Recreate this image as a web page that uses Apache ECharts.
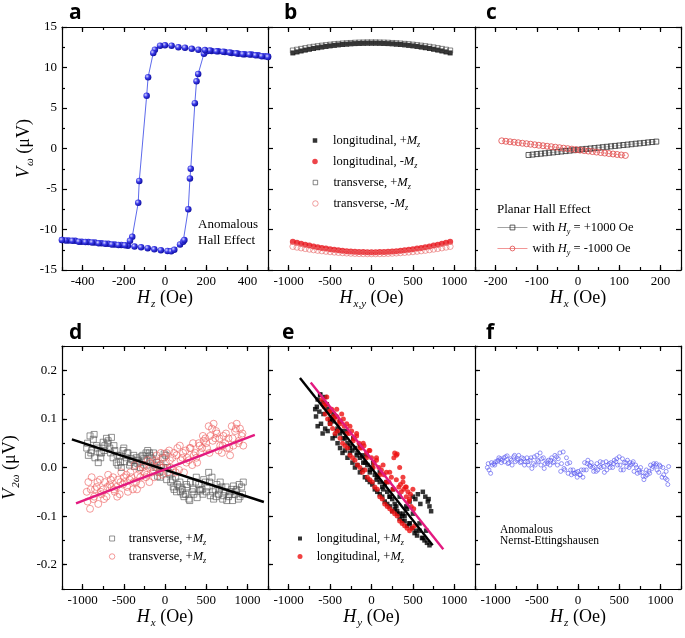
<!DOCTYPE html>
<html><head><meta charset="utf-8">
<script src="https://cdn.jsdelivr.net/npm/echarts@6/dist/echarts.min.js"></script>
<style>html,body{margin:0;padding:0;background:#fff}#c{width:685px;height:638px}</style>
</head><body><div id="c"></div>
<script>
// ---------- tick labels ----------
const yTopTicks = [-15, -10, -5, 0, 5, 10, 15];
const yBotTicks = [-0.2, -0.1, 0, 0.1, 0.2];
const xTicksA = [-400, -200, 0, 200, 400];
const xTicksC = [-200, -100, 0, 100, 200];
const xTicksWide = [-1000, -500, 0, 500, 1000];

// ---------- panel a : anomalous Hall loop ----------
const aAscH = [-500,-468,-436,-404,-372,-340,-308,-276,-244,-212,-180,-148,-116,-84,-52,-20,12,30,45,73,88,94,113,121,125,145,153,161,189,202,226,259,291,324,356,388,421,453,485,500];
const aAscV = [-11.3,-11.35,-11.4,-11.5,-11.55,-11.6,-11.7,-11.75,-11.85,-11.9,-12.0,-12.1,-12.2,-12.3,-12.45,-12.55,-12.65,-12.7,-12.5,-11.85,-11.5,-11.3,-7.5,-3.7,-2.5,5.6,8.3,9.2,11.7,12.0,12.05,12.0,11.9,11.8,11.7,11.65,11.6,11.5,11.4,11.35];
const aDescH = [500,470,440,410,378,346,314,282,250,218,194,162,130,97,65,32,0,-24,-49,-57,-82,-89,-125,-130,-159,-170,-194,-226,-258,-290,-322,-354,-386,-418,-450,-482,-500];
const aDescV = [11.3,11.4,11.5,11.6,11.65,11.75,11.85,11.95,12.0,12.1,12.15,12.2,12.3,12.45,12.5,12.7,12.75,12.7,12.2,11.8,8.8,6.5,-4.0,-6.7,-10.9,-11.4,-11.95,-11.9,-11.85,-11.75,-11.7,-11.6,-11.55,-11.5,-11.4,-11.35,-11.3];

// ---------- panel b ----------
const bH = [-950,-900,-850,-800,-750,-700,-650,-600,-550,-500,-450,-400,-350,-300,-250,-200,-150,-100,-50,0,50,100,150,200,250,300,350,400,450,500,550,600,650,700,750,800,850,900,950];
const bLongPos = [11.80,11.92,12.04,12.15,12.25,12.35,12.44,12.52,12.60,12.67,12.73,12.79,12.84,12.88,12.92,12.95,12.97,12.99,13.00,13.00,13.00,12.99,12.97,12.95,12.92,12.88,12.84,12.79,12.73,12.67,12.60,12.52,12.44,12.35,12.25,12.15,12.04,11.92,11.80];
const bTransPos = [12.10,12.20,12.30,12.39,12.48,12.56,12.63,12.70,12.76,12.82,12.88,12.92,12.96,13.00,13.03,13.06,13.08,13.09,13.10,13.10,13.10,13.09,13.08,13.06,13.03,13.00,12.96,12.92,12.88,12.82,12.76,12.70,12.63,12.56,12.48,12.39,12.30,12.20,12.10];
const bLongNeg = [-11.50,-11.63,-11.76,-11.88,-11.99,-12.09,-12.19,-12.28,-12.36,-12.44,-12.51,-12.57,-12.62,-12.67,-12.71,-12.74,-12.77,-12.79,-12.80,-12.80,-12.80,-12.79,-12.77,-12.74,-12.71,-12.67,-12.62,-12.57,-12.51,-12.44,-12.36,-12.28,-12.19,-12.09,-11.99,-11.88,-11.76,-11.63,-11.50];
const bTransNeg = [-12.10,-12.19,-12.28,-12.36,-12.44,-12.51,-12.58,-12.64,-12.70,-12.75,-12.80,-12.84,-12.88,-12.91,-12.94,-12.96,-12.98,-12.99,-13.00,-13.00,-13.00,-12.99,-12.98,-12.96,-12.94,-12.91,-12.88,-12.84,-12.80,-12.75,-12.70,-12.64,-12.58,-12.51,-12.44,-12.36,-12.28,-12.19,-12.10];

// ---------- panel c : planar Hall ----------
const cPosH = [-120,-110,-100,-90,-80,-70,-60,-50,-40,-30,-20,-10,0,10,20,30,40,50,60,70,80,90,100,110,120,130,140,150,160,170,180,190];
const cPosV = [-0.80,-0.75,-0.69,-0.64,-0.59,-0.53,-0.48,-0.42,-0.37,-0.32,-0.26,-0.21,-0.16,-0.10,-0.05,0.00,0.05,0.10,0.16,0.21,0.27,0.32,0.37,0.43,0.48,0.53,0.59,0.64,0.69,0.75,0.80,0.85];
const cNegH = [-185,-175,-165,-155,-145,-135,-125,-115,-105,-95,-85,-75,-65,-55,-45,-35,-25,-15,-5,5,15,25,35,45,55,65,75,85,95,105,115];
const cNegV = [0.95,0.89,0.83,0.77,0.71,0.65,0.59,0.53,0.46,0.40,0.34,0.28,0.22,0.16,0.10,0.04,-0.02,-0.08,-0.14,-0.20,-0.26,-0.32,-0.38,-0.44,-0.50,-0.56,-0.62,-0.68,-0.74,-0.80,-0.86];

// ---------- panel d ----------
const dH1 = [-950,-910,-870,-830,-790,-750,-710,-670,-630,-590,-550,-510,-470,-430,-390,-350,-310,-270,-230,-190,-150,-110,-70,-30,10,50,90,130,170,210,250,290,330,370,410,450,490,530,570,610,650,690,730,770,810,850,890,930];
const dH2 = [-930,-890,-850,-810,-770,-730,-690,-650,-610,-570,-530,-490,-450,-410,-370,-330,-290,-250,-210,-170,-130,-90,-50,-10,30,70,110,150,190,230,270,310,350,390,430,470,510,550,590,630,670,710,750,790,830,870,910,950];
const dH3 = [-940,-900,-860,-820,-780,-740,-700,-660,-620,-580,-540,-500,-460,-420,-380,-340,-300,-260,-220,-180,-140,-100,-60,-20,20,60,100,140,180,220,260,300,340,380,420,460,500,540,580,620,660,700,740,780,820,860,900,940];
const dGrayV1 = [0.040,0.065,0.058,0.045,0.030,0.052,0.060,0.040,0.020,0.010,0.025,0.035,0.020,0.005,0.015,0.020,0.010,0.025,0.030,0.030,0.015,0.000,-0.010,0.020,0.025,-0.010,-0.025,-0.020,-0.040,-0.045,-0.055,-0.065,-0.050,-0.030,-0.035,-0.045,-0.030,-0.010,-0.020,-0.045,-0.055,-0.040,-0.050,-0.060,-0.045,-0.055,-0.065,-0.040];
const dGrayV2 = [0.025,0.035,0.020,0.010,0.030,0.045,0.055,0.062,0.035,0.005,0.000,0.012,0.030,0.018,0.002,0.008,0.022,0.015,0.035,0.020,0.005,-0.018,0.005,0.028,0.000,-0.030,-0.045,-0.035,-0.050,-0.060,-0.040,-0.030,-0.055,-0.062,-0.048,-0.025,-0.040,-0.058,-0.065,-0.035,-0.030,-0.058,-0.068,-0.050,-0.038,-0.045,-0.060,-0.030];
const dGrayV3 = [0.050,0.030,0.068,0.040,0.020,0.035,0.050,0.030,0.045,0.025,0.010,0.040,0.030,0.010,0.025,0.015,0.000,0.018,0.005,0.025,0.030,0.010,-0.020,0.000,-0.025,-0.015,-0.040,-0.050,-0.030,-0.055,-0.035,-0.068,-0.045,-0.020,-0.045,-0.055,-0.050,-0.030,-0.050,-0.060,-0.045,-0.065,-0.040,-0.055,-0.068,-0.050,-0.035,-0.055];
const dRedV1 = [-0.050,-0.085,-0.065,-0.040,-0.025,-0.045,-0.060,-0.035,-0.020,-0.040,-0.055,-0.035,-0.015,-0.025,-0.045,-0.030,-0.005,0.000,-0.020,-0.030,-0.010,0.015,0.005,-0.015,0.010,0.035,0.020,-0.010,-0.005,0.020,0.035,0.015,0.005,0.030,0.050,0.040,0.060,0.085,0.080,0.060,0.035,0.030,0.050,0.060,0.085,0.075,0.050,0.065];
const dRedV2 = [-0.030,-0.020,-0.045,-0.075,-0.055,-0.030,-0.015,-0.040,-0.050,-0.025,-0.010,-0.030,-0.050,-0.020,0.005,-0.015,-0.035,-0.010,0.015,0.000,-0.020,0.010,0.030,0.020,-0.010,0.000,0.030,0.040,0.015,-0.010,0.020,0.040,0.025,0.010,0.030,0.055,0.040,0.065,0.090,0.070,0.045,0.065,0.040,0.025,0.045,0.090,0.080,0.045];
const dRedV3 = [-0.070,-0.045,-0.060,-0.030,-0.050,-0.065,-0.040,-0.025,-0.045,-0.060,-0.030,-0.020,-0.040,-0.010,-0.030,-0.045,-0.020,0.005,-0.015,0.010,-0.005,0.025,-0.010,0.000,0.030,0.015,-0.005,0.025,0.045,0.030,0.010,0.040,0.050,0.020,0.045,0.065,0.050,0.030,0.055,0.075,0.060,0.045,0.070,0.040,0.060,0.080,0.055,0.070];
const dBlackFitH = [-1130, 1200];
const dBlackFitV = [0.058, -0.071];
const dPinkFitH = [-1080, 1090];
const dPinkFitV = [-0.074, 0.067];

// ---------- panel e ----------
const eBlackH1 = [-680,-650,-620,-590,-560,-530,-500,-470,-440,-410,-380,-350,-320,-290,-260,-230,-200,-170,-140,-110,-80,-50,-20,10,40,70,100,130,160,190,220,250,280,310,340,370,400,430,460,490,520,550,580,610,640,670,700];
const eBlackV1 = [0.120,0.140,0.150,0.135,0.145,0.120,0.100,0.095,0.105,0.080,0.070,0.075,0.060,0.050,0.045,0.035,0.040,0.030,0.020,0.025,0.010,0.005,-0.005,0.000,-0.015,-0.020,-0.030,-0.040,-0.035,-0.050,-0.060,-0.065,-0.075,-0.090,-0.095,-0.100,-0.110,-0.120,-0.115,-0.125,-0.135,-0.140,-0.130,-0.145,-0.150,-0.155,-0.160];
const eBlackH2 = [-670,-650,-630,-610,-590,-560,-530,-500,-470,-440,-410,-380,-350,-320,-290,-260,-230,-200,-170,-140,-110,-80,-50,-20,10,40,70,100,130,160,190,220,250,280,310,340,370,400,430,460,500,530,560,590,620,650,680,700,720,690];
const eBlackV2 = [0.105,0.085,0.115,0.090,0.070,0.080,0.075,0.090,0.060,0.065,0.050,0.040,0.030,0.035,0.020,0.030,0.010,0.000,0.005,-0.010,-0.005,-0.020,-0.025,-0.030,-0.035,-0.045,-0.050,-0.055,-0.060,-0.070,-0.075,-0.080,-0.090,-0.085,-0.095,-0.105,-0.110,-0.100,-0.085,-0.070,-0.060,-0.065,-0.055,-0.075,-0.050,-0.060,-0.070,-0.080,-0.090,-0.065];
const eBlackH3 = [-660,-620,-580,-540,-500,-460,-420,-380,-340,-300,-260,-220,-180,-140,-100,-60,-20,20,60,100,140,180,220,260,300,340,380,420,460,500,540,580,620,660];
const eBlackV3 = [0.125,0.150,0.110,0.130,0.095,0.110,0.075,0.095,0.060,0.075,0.040,0.060,0.025,0.045,0.010,0.025,-0.010,0.010,-0.025,-0.010,-0.045,-0.030,-0.060,-0.045,-0.080,-0.060,-0.095,-0.080,-0.115,-0.095,-0.130,-0.115,-0.145,-0.130];
const eRedH1 = [-600,-570,-540,-510,-480,-450,-420,-390,-360,-330,-300,-270,-240,-210,-180,-150,-120,-90,-60,-30,0,30,60,90,120,150,180,210,240,270,300,330,360,390,420,450,480,510];
const eRedV1 = [0.140,0.125,0.130,0.115,0.120,0.100,0.105,0.095,0.110,0.085,0.090,0.070,0.075,0.060,0.065,0.050,0.040,0.045,0.030,0.035,0.020,0.010,0.015,0.000,-0.005,-0.015,-0.010,-0.030,-0.020,0.020,0.025,-0.040,-0.050,-0.045,-0.060,-0.070,-0.080,-0.085];
const eRedH2 = [-560,-530,-500,-470,-440,-410,-380,-350,-320,-290,-260,-230,-200,-170,-140,-110,-80,-50,-20,10,40,70,100,130,160,190,220,250,280,310,340,370,400,430,460,490,520];
const eRedV2 = [0.110,0.100,0.090,0.080,0.070,0.075,0.060,0.050,0.045,0.040,0.025,0.020,0.015,0.005,0.000,-0.010,-0.005,-0.020,-0.025,-0.030,-0.040,-0.045,-0.060,-0.065,-0.075,-0.080,-0.085,-0.090,-0.095,-0.100,-0.110,-0.115,-0.120,-0.125,-0.130,-0.125,-0.120];
const eRedH3 = [350,380,410,440,470,500,280,310];
const eRedV3 = [-0.035,-0.030,-0.040,-0.050,-0.055,-0.045,0.030,0.028];
const eRedH4 = [-580,-540,-500,-460,-420,-380,-340,-300,-260,-220,-180,-140,-100,-60,-20,20,60,100,140,180,220,260,300,340,380,420,460];
const eRedV4 = [0.130,0.145,0.115,0.105,0.120,0.090,0.100,0.070,0.085,0.055,0.070,0.040,0.050,0.020,0.035,0.000,0.020,-0.015,0.005,-0.030,-0.010,-0.045,-0.025,0.000,-0.020,-0.040,-0.065];
const eBlackFitH = [-864, 739];
const eBlackFitV = [0.184, -0.160];
const ePinkFitH = [-734, 867];
const ePinkFitV = [0.175, -0.168];

// ---------- panel f ----------
const fH1 = [-1100,-1060,-1020,-980,-940,-900,-860,-820,-780,-740,-700,-660,-620,-580,-540,-500,-460,-420,-380,-340,-300,-260,-220,-180,-140,-100,-60,-20,20,60,100,140,180,220,260,300,340,380,420,460,500,540,580,620,660,700,740,780,820,860,900,940,980,1020,1060,1090];
const fV1 = [0.000,-0.012,0.008,0.012,0.018,0.020,0.024,0.018,0.022,0.015,0.010,0.018,0.020,0.015,0.008,0.025,0.030,0.020,0.012,0.005,0.010,0.022,0.030,0.032,0.020,0.010,-0.005,-0.010,-0.015,-0.020,-0.005,0.005,0.000,-0.008,0.002,0.010,0.012,0.008,0.000,0.012,0.022,0.018,0.010,0.000,0.008,0.005,-0.005,-0.010,-0.018,-0.008,-0.002,0.005,-0.010,-0.020,-0.022,-0.035];
const fH2 = [-1090,-1050,-1010,-970,-930,-890,-850,-810,-770,-730,-690,-650,-610,-570,-530,-490,-450,-410,-370,-330,-290,-250,-210,-170,-130,-90,-50,-10,30,70,110,150,190,230,270,310,350,390,430,470,510,550,590,630,670,710,750,790,830,870,910,950,990,1030,1070,1100];
const fV2 = [0.008,0.010,0.005,0.015,0.010,0.012,0.008,0.015,0.025,0.018,0.012,0.005,0.012,0.020,0.022,0.015,0.005,-0.002,0.008,0.015,0.012,0.005,-0.008,-0.002,0.008,-0.005,-0.012,-0.020,-0.015,-0.005,0.008,0.002,-0.008,0.008,0.012,0.002,-0.005,0.000,0.008,0.018,0.005,-0.005,0.002,0.010,0.012,0.000,-0.010,-0.018,-0.005,-0.012,0.002,0.008,0.005,0.000,-0.008,0.002];
const fH3 = [-1080,-1040,-1000,-960,-920,-880,-840,-800,-760,-720,-680,-640,-600,-560,-520,-480,-440,-400,-360,-320,-280,-240,-200,-160,-120,-80,-40,0,40,80,120,160,200,240,280,320,360,400,440,480,520,560,600,640,680,720,760,800,840,880,920,960,1000,1040,1080];
const fV3 = [-0.005,0.005,0.012,0.020,0.015,0.022,0.010,0.005,0.012,0.025,0.020,0.012,0.005,-0.002,0.005,0.012,0.018,0.008,0.015,0.020,0.025,0.018,0.008,-0.005,-0.012,-0.015,-0.012,-0.008,-0.005,0.010,0.015,0.010,0.002,-0.005,0.000,-0.010,0.005,0.010,0.015,0.005,-0.005,0.010,0.015,0.005,-0.008,-0.012,0.000,-0.025,-0.015,0.005,0.008,-0.005,0.002,-0.015,-0.025];

// ======================================================
const SERIF = '"Liberation Serif","Times New Roman",serif';
const SANS = '"Open Sans","DejaVu Sans",sans-serif';
const zip = (h, v) => h.map((x, i) => [x, v[i]]);
const AX = {color: '#000', width: 1.2};
const nameRich = {
  i: {fontFamily: SERIF, fontSize: 18, fontStyle: 'italic', color: '#000'},
  s: {fontFamily: SERIF, fontSize: 11, fontStyle: 'italic', color: '#000', padding: [12, 0, 0, 1]},
  n: {fontFamily: SERIF, fontSize: 18, color: '#000'}
};
const nameStyle = {fontFamily: SERIF, fontSize: 18, color: '#000', rich: nameRich};
const legRichBase = {
  n: {fontFamily: SERIF, fontSize: 12.5, color: '#000'},
  i: {fontFamily: SERIF, fontSize: 12.5, fontStyle: 'italic', color: '#000'},
  s: {fontFamily: SERIF, fontSize: 8, fontStyle: 'italic', color: '#000', padding: [8, 0, 0, 0]}
};

const grids = [
  {left: 62, top: 27, width: 206, height: 243},
  {left: 268, top: 27, width: 207, height: 243},
  {left: 475, top: 27, width: 206, height: 243},
  {left: 62, top: 346, width: 206, height: 243},
  {left: 268, top: 346, width: 207, height: 243},
  {left: 475, top: 346, width: 206, height: 243}
].map(g => Object.assign(g, {containLabel: false, outerBoundsMode: 'none'}));

const xAxes = [], yAxes = [];
const X = [], Y = [];
const near = (arr, v, eps) => arr.some(t => Math.abs(t - v) < eps);

function buildX(g, min, max, step, majors, name, fmt) {
  const base = {type: 'value', gridIndex: g, min, max, interval: step, scale: false,
    splitLine: {show: false}, minorSplitLine: {show: false}};
  xAxes.push(Object.assign({}, base, {
    position: 'bottom', name, nameLocation: 'middle', nameGap: 16, nameTextStyle: nameStyle,
    axisLine: {show: true, onZero: false, lineStyle: AX},
    axisTick: {show: true, inside: true, length: 3, lineStyle: AX},
    axisLabel: {show: true, margin: 5, fontFamily: SERIF, fontSize: 13, color: '#000',
      showMinLabel: true, showMaxLabel: true,
      formatter: v => near(majors, v, step / 100) ? fmt(v) : ''}
  }));
  X[g] = xAxes.length - 1;
  xAxes.push(Object.assign({}, base, {position: 'bottom',
    axisLine: {show: false, onZero: false},
    axisTick: {show: true, inside: true, length: 5, customValues: majors, lineStyle: AX},
    axisLabel: {show: false}}));
  xAxes.push(Object.assign({}, base, {position: 'top',
    axisLine: {show: true, onZero: false, lineStyle: AX},
    axisTick: {show: true, inside: true, length: 3, lineStyle: AX},
    axisLabel: {show: false}}));
  xAxes.push(Object.assign({}, base, {position: 'top',
    axisLine: {show: false, onZero: false},
    axisTick: {show: true, inside: true, length: 5, customValues: majors, lineStyle: AX},
    axisLabel: {show: false}}));
}

function buildYTop(g, pos, labels, name) {
  const ax = {type: 'value', gridIndex: g, position: pos, min: -15, max: 15, interval: 5,
    splitLine: {show: false}, minorSplitLine: {show: false},
    axisLine: {show: true, onZero: false, lineStyle: AX},
    axisTick: {show: true, inside: true, length: 5, lineStyle: AX},
    minorTick: {show: true, splitNumber: 2, length: 3, lineStyle: AX},
    axisLabel: {show: labels, margin: 5, fontFamily: SERIF, fontSize: 13, color: '#000',
      formatter: v => near(yTopTicks, v, 0.01) ? String(v) : ''}};
  if (name) Object.assign(ax, {name, nameLocation: 'middle', nameGap: 25, nameRotate: 90, nameTextStyle: nameStyle});
  yAxes.push(ax);
  return yAxes.length - 1;
}

function buildYBot(g, pos, labels, name) {
  const base = {type: 'value', gridIndex: g, position: pos, min: -0.25, max: 0.25, interval: 0.05,
    splitLine: {show: false}, minorSplitLine: {show: false}};
  const ax = Object.assign({}, base, {
    axisLine: {show: true, onZero: false, lineStyle: AX},
    axisTick: {show: true, inside: true, length: 3, lineStyle: AX},
    axisLabel: {show: labels, margin: 5, fontFamily: SERIF, fontSize: 13, color: '#000',
      formatter: v => near(yBotTicks, v, 0.001) ? (Math.abs(v) < 1e-9 ? '0.0' : v.toFixed(1)) : ''}});
  if (name) Object.assign(ax, {name, nameLocation: 'middle', nameGap: 40, nameRotate: 90, nameTextStyle: nameStyle});
  yAxes.push(ax);
  const idx = yAxes.length - 1;
  yAxes.push(Object.assign({}, base, {
    axisLine: {show: false, onZero: false},
    axisTick: {show: true, inside: true, length: 5, customValues: yBotTicks, lineStyle: AX},
    axisLabel: {show: false}}));
  return idx;
}

const intFmt = v => String(Math.round(v));
buildX(0, -500, 500, 100, xTicksA, '{i|H}{s|z}{n| (Oe)}', intFmt);
buildX(1, -1250, 1250, 250, xTicksWide, '{i|H}{s|x,y}{n| (Oe)}', intFmt);
buildX(2, -250, 250, 50, xTicksC, '{i|H}{s|x}{n| (Oe)}', intFmt);
buildX(3, -1250, 1250, 250, xTicksWide, '{i|H}{s|x}{n| (Oe)}', intFmt);
buildX(4, -1250, 1250, 250, xTicksWide, '{i|H}{s|y}{n| (Oe)}', intFmt);
buildX(5, -1250, 1250, 250, xTicksWide, '{i|H}{s|z}{n| (Oe)}', intFmt);

Y[0] = buildYTop(0, 'left', true, '{i|V}{s|ω}{n| (μV)}');
Y[1] = buildYTop(1, 'left', false);
Y[2] = buildYTop(2, 'left', false);
buildYTop(2, 'right', false);
Y[3] = buildYBot(3, 'left', true, '{i|V}{s|2ω}{n| (μV)}');
Y[4] = buildYBot(4, 'left', false);
Y[5] = buildYBot(5, 'left', false);
buildYBot(5, 'right', false);

const sphere = {type: 'radial', x: 0.35, y: 0.35, r: 0.7,
  colorStops: [{offset: 0, color: '#d8d8ff'}, {offset: 0.45, color: '#3a3ae8'}, {offset: 1, color: '#0c0c9c'}]};
const openStyle = c => ({color: 'rgba(255,255,255,0)', borderColor: c, borderWidth: 0.8});

function sc(name, g, data, symbol, size, itemStyle, z) {
  return {type: 'scatter', name, xAxisIndex: X[g], yAxisIndex: Y[g], data, symbol, symbolSize: size,
    itemStyle, z: z || 2, silent: true};
}
function fit(g, h, v, color) {
  return {type: 'line', xAxisIndex: X[g], yAxisIndex: Y[g], data: zip(h, v), symbol: 'none',
    lineStyle: {color, width: 2.4}, z: 5, silent: true};
}

const series = [
  // a
  {type: 'line', name: 'aAsc', xAxisIndex: X[0], yAxisIndex: Y[0], data: zip(aAscH, aAscV),
   symbol: 'circle', symbolSize: 6.5, showSymbol: true, itemStyle: {color: sphere},
   lineStyle: {color: '#3344e6', width: 0.8}, silent: true},
  {type: 'line', name: 'aDesc', xAxisIndex: X[0], yAxisIndex: Y[0], data: zip(aDescH, aDescV),
   symbol: 'circle', symbolSize: 6.5, showSymbol: true, itemStyle: {color: sphere},
   lineStyle: {color: '#3344e6', width: 0.8}, silent: true},
  // b
  sc('bLongP', 1, zip(bH, bLongPos), 'rect', 5, {color: '#000'}, 2),
  sc('bLongN', 1, zip(bH, bLongNeg), 'circle', 6, {color: '#e8141c'}, 2),
  sc('bTransP', 1, zip(bH, bTransPos), 'rect', 5, openStyle('#444'), 3),
  sc('bTransN', 1, zip(bH, bTransNeg), 'circle', 6, openStyle('#e86a6a'), 3),
  // c
  {type: 'line', name: 'cPos', xAxisIndex: X[2], yAxisIndex: Y[2], data: zip(cPosH, cPosV),
   symbol: 'rect', symbolSize: 5, itemStyle: openStyle('#333'), lineStyle: {color: '#999', width: 0.8}, silent: true},
  {type: 'line', name: 'cNeg', xAxisIndex: X[2], yAxisIndex: Y[2], data: zip(cNegH, cNegV),
   symbol: 'circle', symbolSize: 6, itemStyle: openStyle('#e04848'), lineStyle: {color: '#f08a8a', width: 0.8}, silent: true},
  // d
  sc('dGray', 3, zip(dH1, dGrayV1).concat(zip(dH2, dGrayV2), zip(dH3, dGrayV3)), 'rect', 6, openStyle('#555'), 2),
  sc('dRed', 3, zip(dH1, dRedV1).concat(zip(dH2, dRedV2), zip(dH3, dRedV3)), 'circle', 7, openStyle('#ee6060'), 2),
  fit(3, dBlackFitH, dBlackFitV, '#000'),
  fit(3, dPinkFitH, dPinkFitV, '#e3197f'),
  // e
  sc('eBlack', 4, zip(eBlackH1, eBlackV1).concat(zip(eBlackH2, eBlackV2), zip(eBlackH3, eBlackV3)), 'rect', 4.5, {color: '#000'}, 2),
  sc('eRed', 4, zip(eRedH1, eRedV1).concat(zip(eRedH2, eRedV2), zip(eRedH3, eRedV3), zip(eRedH4, eRedV4)), 'circle', 5, {color: '#ee1111'}, 3),
  fit(4, eBlackFitH, eBlackFitV, '#000'),
  fit(4, ePinkFitH, ePinkFitV, '#e3197f'),
  // f
  sc('fBlue', 5, zip(fH1, fV1).concat(zip(fH2, fV2), zip(fH3, fV3)), 'circle', 4, openStyle('#5a5af0'), 2)
];

// legend: icon centred at cx, text starting at tx, row centre cy
function leg(name, cx, tx, cy, size, text, itemStyle) {
  const left = cx - size / 2;
  const pad = Math.max(0, tx - (left + size + 5));
  const rich = Object.assign({p: {width: pad, fontSize: 12.5}}, legRichBase);
  return {data: [name], left, top: cy - 5, orient: 'horizontal', itemWidth: size, itemHeight: size,
    padding: 0, itemGap: 0, selectedMode: false, formatter: () => '{p| }' + text, itemStyle: itemStyle || {},
    textStyle: Object.assign({rich}, legRichBase.n)};
}
function legLine(name, left, cy, text, lineColor) {
  return {data: [name], left, top: cy - 5, itemWidth: 30, itemHeight: 6, padding: 0, itemGap: 0,
    selectedMode: false, formatter: () => text, itemStyle: {borderWidth: 0.8},
    lineStyle: {width: 0.9, color: lineColor},
    textStyle: Object.assign({rich: legRichBase}, legRichBase.n)};
}
const legends = [
  leg('bLongP', 315, 333, 139, 4.5, '{n|longitudinal, +}{i|M}{s|z}', {borderWidth: 0}),
  leg('bLongN', 315, 333, 160, 5.5, '{n|longitudinal, -}{i|M}{s|z}', {borderWidth: 0}),
  leg('bTransP', 315, 333, 181, 4.5, '{n|transverse, +}{i|M}{s|z}', {borderWidth: 0.8}),
  leg('bTransN', 315, 333, 202, 5.5, '{n|transverse, -}{i|M}{s|z}', {borderWidth: 0.8}),
  legLine('cPos', 497, 226, '{n|with }{i|H}{s|y}{n| = +1000 Oe}', '#999'),
  legLine('cNeg', 497, 247, '{n|with }{i|H}{s|y}{n| = -1000 Oe}', '#f08a8a'),
  leg('dGray', 111.7, 128.3, 537, 5, '{n|transverse, +}{i|M}{s|z}', {borderWidth: 0.8}),
  leg('dRed', 111.7, 128.3, 555, 5.5, '{n|transverse, +}{i|M}{s|z}', {borderWidth: 0.8}),
  leg('eBlack', 300, 316.7, 537, 4, '{n|longitudinal, +}{i|M}{s|z}', {borderWidth: 0}),
  leg('eRed', 300, 316.7, 555, 5, '{n|longitudinal, +}{i|M}{s|z}', {borderWidth: 0})
];

const letter = (t, x, y) => ({type: 'text', x, y, silent: true,
  style: {text: t, font: 'bold 21px ' + SANS, fill: '#000', verticalAlign: 'middle'}});
const graphic = [
  letter('a', 69, 13), letter('b', 284, 13), letter('c', 486, 13),
  letter('d', 69, 333), letter('e', 282, 333), letter('f', 486, 333),
  {type: 'text', x: 198, y: 217, silent: true,
   style: {text: 'Anomalous\nHall Effect', font: '13px ' + SERIF, fill: '#000', lineHeight: 16, verticalAlign: 'top'}},
  {type: 'text', x: 497, y: 203, silent: true,
   style: {text: 'Planar Hall Effect', font: '13px ' + SERIF, fill: '#000', verticalAlign: 'top'}},
  {type: 'text', x: 500, y: 524, silent: true,
   style: {text: 'Anomalous\nNernst-Ettingshausen', font: '11.5px ' + SERIF, fill: '#000', lineHeight: 11, verticalAlign: 'top'}}
];

const chart = echarts.init(document.getElementById('c'), null, {renderer: 'canvas'});
chart.setOption({
  animation: false,
  backgroundColor: '#fff',
  grid: grids,
  xAxis: xAxes,
  yAxis: yAxes,
  legend: legends,
  series,
  graphic
});
</script></body></html>
